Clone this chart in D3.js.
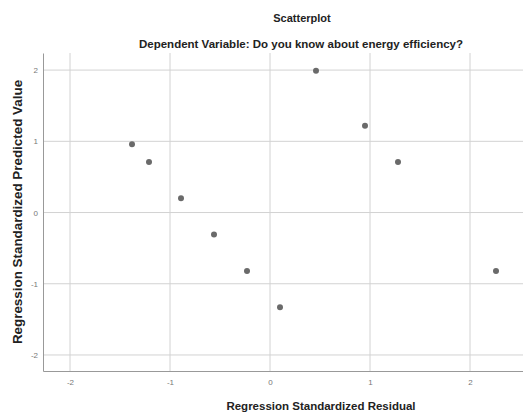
<!DOCTYPE html>
<html>
<head>
<meta charset="utf-8">
<script src="https://cdn.jsdelivr.net/npm/d3@7"></script>
<style>
  body { margin: 0; background: #fff; }
  svg { font-family: Arial, "Liberation Sans", sans-serif; }
</style>
</head>
<body>
<div id="chart"></div>
<script>
// Chart size
const width = 523;
const height = 415;
const margin = { top: 53, right: 0, bottom: 44, left: 43 };

// Data
const residuals = [-1.38, -1.21, -0.89, -0.56, -0.23, 0.10, 0.46, 0.95, 1.28, 2.26];
const predicted = [0.96, 0.71, 0.20, -0.31, -0.82, -1.33, 1.99, 1.22, 0.71, -0.82];
const xTicks = [-2, -1, 0, 1, 2];
const yTicks = [-2, -1, 0, 1, 2];

const points = residuals.map((r, i) => ({ x: r, y: predicted[i] }));

const svg = d3.select("#chart").append("svg")
    .attr("width", width)
    .attr("height", height);

const x = d3.scaleLinear()
    .domain([-2.27, 2.53])
    .range([margin.left, width - margin.right]);

const y = d3.scaleLinear()
    .domain([-2.225, 2.24])
    .range([height - margin.bottom, margin.top]);

// Gridlines
svg.append("g")
    .selectAll("line")
    .data(xTicks)
    .enter().append("line")
    .attr("x1", d => x(d)).attr("x2", d => x(d))
    .attr("y1", margin.top).attr("y2", height - margin.bottom)
    .attr("stroke", "#d2d2d2")
    .attr("stroke-width", 1);

svg.append("g")
    .selectAll("line")
    .data(yTicks)
    .enter().append("line")
    .attr("x1", margin.left).attr("x2", width - margin.right)
    .attr("y1", d => y(d)).attr("y2", d => y(d))
    .attr("stroke", "#d2d2d2")
    .attr("stroke-width", 1);

// Axes
const xAxis = svg.append("g")
    .attr("transform", `translate(0,${height - margin.bottom})`)
    .call(d3.axisBottom(x).tickValues(xTicks).tickSize(0).tickPadding(8).tickFormat(d3.format("d")));
const yAxis = svg.append("g")
    .attr("transform", `translate(${margin.left},0)`)
    .call(d3.axisLeft(y).tickValues(yTicks).tickSize(0).tickPadding(5).tickFormat(d3.format("d")));

[xAxis, yAxis].forEach(g => {
    g.select(".domain").attr("stroke", "#999");
    g.selectAll("text").attr("fill", "#777").attr("font-size", "8px")
        .text(d => d < 0 ? "-" + Math.abs(d) : d);
});

// Points
svg.append("g")
    .selectAll("circle")
    .data(points)
    .enter().append("circle")
    .attr("cx", d => x(d.x))
    .attr("cy", d => y(d.y))
    .attr("r", 3)
    .attr("fill", "#6a6a6a");

// Titles
svg.append("text")
    .attr("x", 302).attr("y", 22)
    .attr("text-anchor", "middle")
    .attr("font-size", "11px")
    .attr("font-weight", "600")
    .attr("fill", "#222")
    .text("Scatterplot");

svg.append("text")
    .attr("x", 301).attr("y", 48)
    .attr("text-anchor", "middle")
    .attr("font-size", "11.5px")
    .attr("font-weight", "600")
    .attr("fill", "#222")
    .text("Dependent Variable: Do you know about energy efficiency?");

svg.append("text")
    .attr("x", 321).attr("y", 410)
    .attr("text-anchor", "middle")
    .attr("font-size", "11.5px")
    .attr("font-weight", "bold")
    .attr("fill", "#222")
    .text("Regression Standardized Residual");

svg.append("text")
    .attr("transform", "translate(22,212) rotate(-90)")
    .attr("text-anchor", "middle")
    .attr("font-size", "13.4px")
    .attr("font-weight", "bold")
    .attr("fill", "#222")
    .text("Regression Standardized Predicted Value");
</script>
</body>
</html>
